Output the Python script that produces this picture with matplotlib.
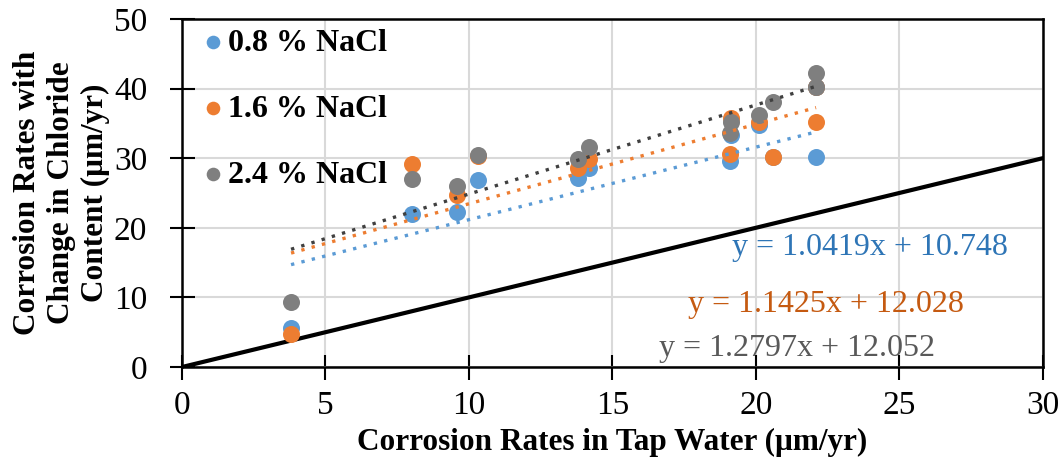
import numpy as np
import matplotlib
matplotlib.use("Agg")
import matplotlib.pyplot as plt

plt.rcParams['font.family'] = ['Liberation Serif', 'DejaVu Serif']

# corrosion rate in tap water (x) and with chloride (y), um/yr
tap = [3.8, 8.0, 9.6, 10.3, 13.8, 14.2, 19.1, 19.15, 20.1, 20.6, 22.1, 22.1]
nacl_08 = [5.6, 22.0, 22.3, 26.9, 27.1, 28.6, 29.6, 33.3, 34.8, 30.2, 30.2, 40.2]
nacl_16 = [4.7, 29.1, 24.7, 30.3, 28.6, 29.9, 30.6, 35.8, 35.2, 30.2, 35.2, 40.2]
nacl_24 = [9.3, 27.0, 26.0, 30.5, 29.9, 31.6, 33.6, 35.2, 36.2, 38.1, 40.2, 42.2]

labels = ['0.8 % NaCl', '1.6 % NaCl', '2.4 % NaCl']
slopes = [1.0419, 1.1425, 1.2797]
intercepts = [10.748, 12.028, 12.052]

marker_cols = ['#5B9BD5', '#ED7D31', '#7F7F7F']
trend_cols = ['#5B9BD5', '#ED7D31', '#404040']
eq_cols = ['#2E75B6', '#C55A11', '#595959']
eq_pos = [(19.16, 17.2), (17.63, 9.05), (16.62, 2.7)]

fig = plt.figure(figsize=(10.62, 4.59), dpi=100)
ax = fig.add_axes([0.1714, 0.2004, 0.8104, 0.7582])

# 1:1 line
ax.plot([0, 30], [0, 30], color='black', lw=3, zorder=2)

series = [nacl_08, nacl_16, nacl_24]
for i, ys in enumerate(series):
    ax.scatter(tap, ys, s=150, color=marker_cols[i], label=labels[i],
               zorder=3, linewidths=0)
    xs = np.array([min(tap), max(tap)])
    ax.plot(xs, slopes[i] * xs + intercepts[i], ls=(0, (1, 2.2)), lw=2.4,
            color=trend_cols[i], zorder=4)
    ax.text(eq_pos[i][0], eq_pos[i][1],
            'y = %.4fx + %.3f' % (slopes[i], intercepts[i]),
            color=eq_cols[i], fontsize=23, va='center', zorder=5)

ax.set_xlim(0, 30)
ax.set_ylim(0, 50)
ax.set_xticks(range(0, 31, 5))
ax.set_yticks(range(0, 51, 10))
ax.grid(True, color='#d9d9d9', lw=1.5)
ax.set_axisbelow(True)
for s in ax.spines.values():
    s.set_linewidth(1.8)
    s.set_color('black')
ax.tick_params(direction='inout', length=18, width=1.5, labelsize=24)
ax.tick_params(axis='x', pad=8)
ax.tick_params(axis='y', pad=16)

ax.set_xlabel('Corrosion Rates in Tap Water (μm/yr)', fontsize=22.5,
              fontweight='bold', labelpad=5)
ax.set_ylabel('Corrosion Rates with\nChange in Chloride\nContent (μm/yr)',
              fontsize=22.5, fontweight='bold', labelpad=3, linespacing=1.22)

leg = ax.legend(loc='upper left', frameon=False, prop={'size': 23, 'weight': 'bold'},
                handletextpad=0.0, labelspacing=1.15, borderaxespad=0.0,
                handlelength=0.9, markerscale=0.8, bbox_to_anchor=(0.005, 1.01))

fig.savefig('out.png', dpi=100)
